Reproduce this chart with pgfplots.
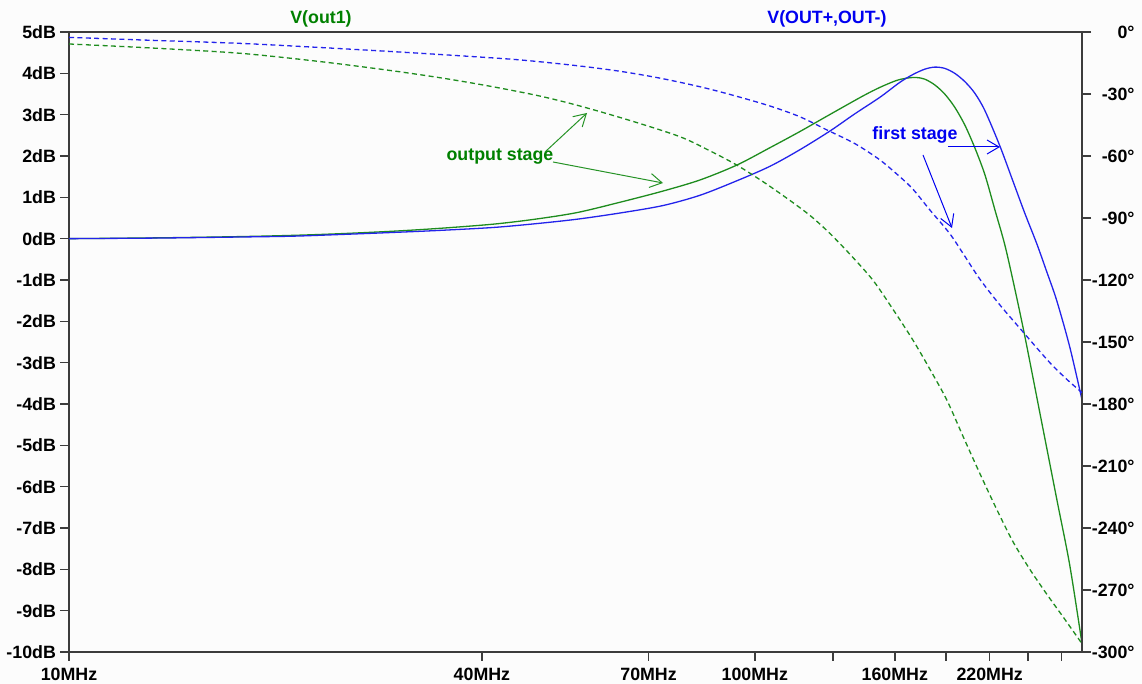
\documentclass[border=0pt]{standalone}
\usepackage{fontspec}
\setmainfont{Liberation Sans}
\usepackage{pgfplots}
\pgfplotsset{compat=1.18}
\usetikzlibrary{arrows.meta}
\definecolor{ltgreen}{RGB}{30,140,30}
\definecolor{ltblue}{RGB}{35,35,235}
\definecolor{ttgreen}{RGB}{0,128,0}
\definecolor{ttblue}{RGB}{0,0,240}
\definecolor{axgray}{RGB}{60,60,60}
\definecolor{bg}{RGB}{252,252,252}
\newcommand\lf{\fontsize{8.9}{10}\selectfont\bfseries}

\begin{document}
\begin{tikzpicture}
\fill[bg] (0,0) rectangle (571pt,342pt);
\path[use as bounding box] (0,0) rectangle (571pt,342pt);
\begin{axis}[
  at={(34.5pt,16pt)}, anchor=south west, scale only axis, width=506.5pt, height=310pt,
  xmode=log, xmin=10, xmax=300,
  axis line style={axgray, line width=0.9pt},
  tick style={axgray, line width=0.8pt},
  major tick length=4.5pt, tick align=outside,
  tick label style={font=\lf, text=black},
  ymin=-10, ymax=5,
  ytick={-10,-9,-8,-7,-6,-5,-4,-3,-2,-1,0,1,2,3,4,5},
  yticklabels={-10dB,-9dB,-8dB,-7dB,-6dB,-5dB,-4dB,-3dB,-2dB,-1dB,0dB,1dB,2dB,3dB,4dB,5dB},
  yticklabel style={xshift=1.5pt},
  xtick={10,40,70,100,130,160,190,220,250,280},
  xticklabels={10MHz,40MHz,70MHz,100MHz,,160MHz,,220MHz,,},
  minor xtick={},
  xtick pos=bottom, ytick pos=left,
]
% V(out1) magnitude
\addplot[ltgreen, line width=0.65pt, smooth] coordinates {
(10,0) (13.53,0.02) (17.76,0.05) (21.21,0.08) (24.83,0.12) (29.67,0.18) (34.74,0.25)
(41.51,0.35) (47.79,0.47) (55.02,0.63) (63.57,0.88) (73.42,1.15) (83.2,1.42) (94.14,1.78)
(105.2,2.2) (116.3,2.59) (129.5,3.03) (143.7,3.45) (152.2,3.66) (160.5,3.82) (166.0,3.88)
(171.7,3.9) (176.9,3.86) (183.0,3.72) (189.2,3.5) (195.7,3.18) (202.4,2.75) (209.3,2.2)
(216.5,1.55) (223.9,0.7) (231.5,-0.15) (239.3,-1.2) (247.5,-2.35) (260.3,-4.2)
(275.6,-6.3) (287.9,-7.9) (300,-9.8)
};
% V(OUT+,OUT-) magnitude
\addplot[ltblue, line width=0.65pt, smooth] coordinates {
(10,0) (13.53,0.015) (17.76,0.04) (21.21,0.06) (24.83,0.1) (29.67,0.15) (34.74,0.2)
(41.51,0.27) (47.79,0.36) (55.02,0.47) (63.57,0.62) (73.42,0.8) (83.2,1.05) (94.14,1.4)
(105.2,1.75) (116.3,2.15) (128.6,2.6) (139.9,3.02) (152.2,3.42) (162.7,3.78) (170.0,3.97)
(176.9,4.1) (183.0,4.15) (189.2,4.12) (195.7,4.0) (202.4,3.8) (209.3,3.52) (216.5,3.1)
(227.6,2.25) (237.8,1.4) (247.5,0.62) (257.7,-0.12) (266.5,-0.8) (275.6,-1.5)
(287.9,-2.62) (300,-3.9)
};
\end{axis}
\begin{axis}[
  at={(34.5pt,16pt)}, anchor=south west, scale only axis, width=506.5pt, height=310pt,
  xmode=log, xmin=10, xmax=300,
  axis line style={axgray, line width=0.9pt},
  tick style={axgray, line width=0.8pt},
  major tick length=4.5pt, tick align=outside,
  tick label style={font=\lf, text=black},
  ymin=-300, ymax=0,
  ytick={-300,-270,-240,-210,-180,-150,-120,-90,-60,-30,0},
  yticklabels={-300°,-270°,-240°,-210°,-180°,-150°,-120°,-90°,-60°,-30°,0°},
  axis y line*=right, axis x line=none,
  yticklabel style={anchor=east, inner sep=0pt, xshift=22pt},
]
% V(OUT+,OUT-) phase
\addplot[ltblue, line width=0.65pt, dash pattern=on 2.5pt off 1.7pt, smooth] coordinates {
(10,-2.6) (13.12,-4) (17.76,-5.5) (23.22,-7.5) (29.67,-9.5) (37.15,-11.5) (45.44,-13.5)
(55.02,-16.3) (63.57,-19) (72.66,-22.3) (83.2,-26.5) (92.9,-30.6) (105.2,-35.8)
(116.3,-41) (127.4,-47.4) (139.9,-54) (152.2,-61.9) (162.7,-70) (170.0,-76) (179.9,-86)
(192.4,-97.5) (202.4,-108.5) (212.8,-119.5) (227.6,-132) (245.9,-145) (260.3,-154.5)
(271.9,-161.5) (286.0,-168.5) (300,-174.5)
};
% V(out1) phase
\addplot[ltgreen, line width=0.65pt, dash pattern=on 2.5pt off 1.7pt, smooth] coordinates {
(10,-5.8) (13.12,-7.7) (17.76,-10.3) (23.22,-14.3) (29.67,-18.8) (35.33,-22.5)
(41.51,-26.5) (48.6,-31) (55.58,-35.8) (65.74,-42.8) (77.7,-50.6) (86.0,-57.5)
(94.14,-64.4) (103.4,-73) (113.6,-82.5) (121.1,-89.5) (128.6,-97.4) (137.6,-107.5)
(148.6,-120) (158.9,-134) (170.0,-149) (179.9,-163) (190.5,-178) (201.1,-195.5)
(212.8,-213.5) (225.3,-231) (237.8,-246.5) (251.8,-260) (266.5,-272) (282.2,-283.5)
(300,-296)
};
\end{axis}
\begin{scope}[x=0.5pt,y=-0.5pt,shift={(0pt,342pt)}]
% titles
\node[ttgreen, font=\lf] at (321,19) {V(out1)};
\node[ttblue, font=\lf] at (827,19) {V(OUT+,OUT-)};
% annotations
\node[ttgreen, font=\lf] at (500,157) {output stage};
\draw[ttgreen!85!white, line width=0.5pt, -{Straight Barb[length=6pt,width=7pt]}] (545,152) -- (587,113);
\draw[ttgreen!85!white, line width=0.5pt, -{Straight Barb[length=6pt,width=7pt]}] (553,162) -- (663,183);
\node[ttblue, font=\lf] at (915,135) {first stage};
\draw[ttblue, line width=0.5pt, -{Straight Barb[length=6pt,width=7pt]}] (948,147) -- (1000,147);
\draw[ttblue, line width=0.5pt, -{Straight Barb[length=6pt,width=7pt]}] (923,155) -- (952,228);
\end{scope}
\end{tikzpicture}
\end{document}
